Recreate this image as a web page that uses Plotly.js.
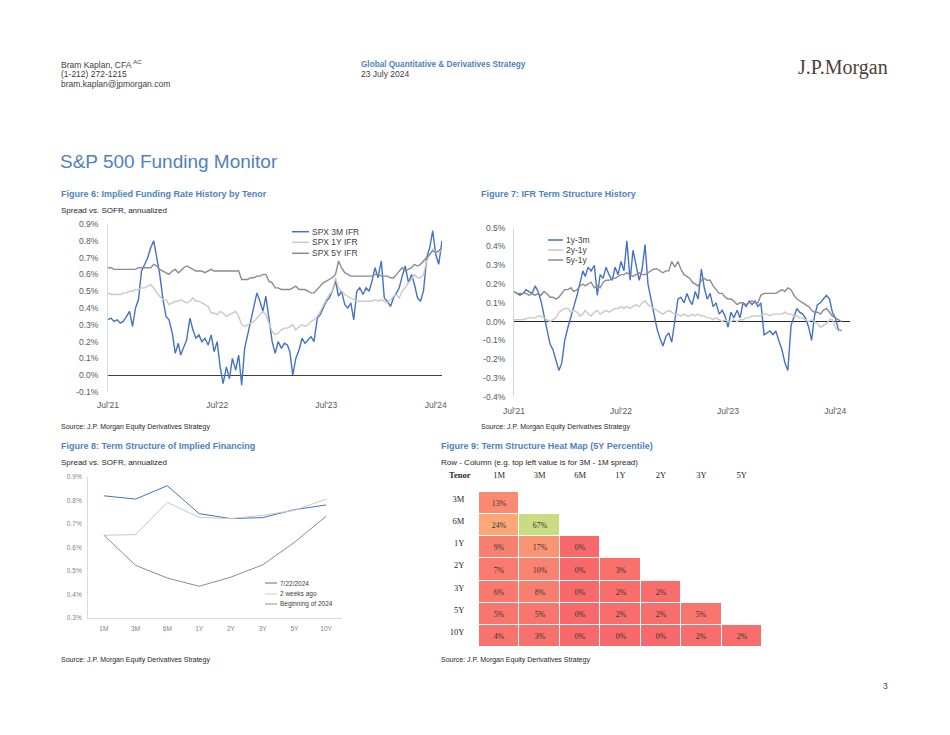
<!DOCTYPE html>
<html><head><meta charset="utf-8">
<script src="https://cdn.plot.ly/plotly-3.0.1.min.js"></script>
<style>html,body{margin:0;padding:0;background:#fff}#chart{width:950px;height:735px}</style>
</head><body><div id="chart"></div>
<script>
// ---------- DATA ----------
const dates = [
'2021-07-01','2021-07-11','2021-07-21','2021-08-01','2021-08-11','2021-08-21','2021-09-01','2021-09-11','2021-09-21','2021-10-01','2021-10-11','2021-10-21','2021-11-01','2021-11-11','2021-11-21','2021-12-01','2021-12-11','2021-12-21',
'2022-01-01','2022-01-11','2022-01-21','2022-02-01','2022-02-11','2022-02-21','2022-03-01','2022-03-11','2022-03-21','2022-04-01','2022-04-11','2022-04-21','2022-05-01','2022-05-11','2022-05-21','2022-06-01','2022-06-11','2022-06-21',
'2022-07-01','2022-07-11','2022-07-21','2022-08-01','2022-08-11','2022-08-21','2022-09-01','2022-09-11','2022-09-21','2022-10-01','2022-10-11','2022-10-21','2022-11-01','2022-11-11','2022-11-21','2022-12-01','2022-12-11','2022-12-21',
'2023-01-01','2023-01-11','2023-01-21','2023-02-01','2023-02-11','2023-02-21','2023-03-01','2023-03-11','2023-03-21','2023-04-01','2023-04-11','2023-04-21','2023-05-01','2023-05-11','2023-05-21','2023-06-01','2023-06-11','2023-06-21',
'2023-07-01','2023-07-11','2023-07-21','2023-08-01','2023-08-11','2023-08-21','2023-09-01','2023-09-11','2023-09-21','2023-10-01','2023-10-11','2023-10-21','2023-11-01','2023-11-11','2023-11-21','2023-12-01','2023-12-11','2023-12-21',
'2024-01-01','2024-01-11','2024-01-21','2024-02-01','2024-02-11','2024-02-21','2024-03-01','2024-03-11','2024-03-21','2024-04-01','2024-04-11','2024-04-21','2024-05-01','2024-05-11','2024-05-21','2024-06-01','2024-06-11','2024-06-21',
'2024-07-01','2024-07-11','2024-07-22'];

// Figure 6: Implied funding rate (spread vs SOFR, %)
const fig6Names = ['SPX 3M IFR','SPX 1Y IFR','SPX 5Y IFR'];
const ifr3m = [
0.33,0.34,0.32,0.33,0.31,0.32,0.35,0.38,0.29,0.40,
0.45,0.62,0.66,0.70,0.76,0.80,0.70,0.60,0.45,0.35,
0.33,0.25,0.13,0.19,0.12,0.17,0.21,0.34,0.27,0.22,
0.24,0.20,0.22,0.18,0.24,0.14,0.20,0.05,-0.05,0.05,
-0.02,0.10,0.03,0.12,-0.06,0.16,0.24,0.33,0.42,0.49,
0.44,0.38,0.47,0.34,0.20,0.13,0.20,0.16,0.19,0.18,
0.14,0.00,0.10,0.15,0.22,0.19,0.21,0.23,0.20,0.34,
0.36,0.40,0.44,0.46,0.50,0.56,0.47,0.50,0.42,0.40,
0.43,0.33,0.50,0.52,0.48,0.52,0.50,0.56,0.64,0.58,
0.68,0.46,0.44,0.41,0.46,0.49,0.52,0.59,0.65,0.55,
0.60,0.54,0.46,0.44,0.50,0.70,0.76,0.86,0.72,0.66,
0.80];
const ifr1y = [
0.49,0.48,0.48,0.48,0.48,0.49,0.49,0.50,0.50,0.51,
0.51,0.52,0.52,0.53,0.54,0.52,0.49,0.47,0.45,0.45,
0.42,0.43,0.44,0.44,0.45,0.44,0.43,0.44,0.46,0.44,
0.44,0.43,0.42,0.41,0.37,0.37,0.36,0.38,0.37,0.35,
0.36,0.37,0.38,0.35,0.30,0.29,0.30,0.31,0.32,0.34,
0.36,0.38,0.36,0.31,0.26,0.24,0.25,0.27,0.28,0.28,
0.29,0.30,0.27,0.29,0.30,0.29,0.30,0.32,0.33,0.35,
0.38,0.42,0.45,0.48,0.50,0.58,0.52,0.50,0.48,0.47,
0.46,0.45,0.44,0.44,0.44,0.44,0.44,0.44,0.45,0.44,
0.45,0.44,0.43,0.45,0.47,0.48,0.46,0.50,0.52,0.55,
0.57,0.60,0.58,0.58,0.60,0.68,0.72,0.75,0.73,0.74,
0.74];
const ifr5y = [
0.64,0.64,0.63,0.63,0.63,0.63,0.63,0.63,0.63,0.63,
0.64,0.64,0.64,0.64,0.64,0.66,0.65,0.63,0.62,0.61,
0.60,0.62,0.63,0.61,0.62,0.64,0.65,0.64,0.63,0.62,
0.62,0.62,0.61,0.62,0.63,0.62,0.62,0.62,0.62,0.62,
0.62,0.62,0.62,0.62,0.57,0.57,0.57,0.58,0.58,0.59,
0.59,0.60,0.60,0.56,0.55,0.52,0.52,0.51,0.51,0.51,
0.51,0.52,0.53,0.51,0.51,0.51,0.50,0.49,0.49,0.51,
0.53,0.55,0.56,0.57,0.58,0.60,0.68,0.64,0.61,0.60,
0.59,0.59,0.59,0.59,0.59,0.59,0.59,0.59,0.60,0.60,
0.59,0.59,0.59,0.58,0.58,0.60,0.62,0.64,0.62,0.63,
0.64,0.66,0.65,0.66,0.68,0.70,0.72,0.74,0.73,0.74,
0.76];

// Figure 7: IFR term structure (%)
const fig7Names = ['1y-3m','2y-1y','5y-1y'];
const ts1y3m = [
0.16,0.15,0.14,0.15,0.17,0.16,0.15,0.19,0.16,0.11,
0.04,-0.03,-0.12,-0.15,-0.21,-0.26,-0.22,-0.10,-0.03,0.03,
0.08,0.14,0.20,0.27,0.24,0.29,0.27,0.30,0.14,0.25,
0.23,0.29,0.25,0.22,0.29,0.25,0.32,0.27,0.43,0.22,
0.38,0.30,0.22,0.28,0.41,0.20,0.12,0.04,-0.04,-0.09,
-0.13,-0.08,-0.06,-0.11,0.02,0.12,0.13,0.10,0.15,0.11,
0.09,0.16,0.12,0.28,0.18,0.12,0.15,0.08,0.10,0.04,
0.06,0.03,-0.03,0.05,0.02,0.06,0.02,0.10,0.08,0.11,
0.09,0.11,0.08,0.10,-0.07,-0.06,-0.05,-0.07,-0.05,-0.10,
-0.15,-0.22,-0.26,-0.02,0.03,0.07,0.05,0.04,0.02,-0.03,
-0.10,0.03,0.09,0.10,0.12,0.14,0.12,0.05,0.02,-0.04,
-0.05];
const ts2y1y = [
0.01,0.01,0.01,0.01,0.015,0.02,0.02,0.02,0.03,0.03,
0.02,0.01,0.00,0.01,0.02,0.05,0.06,0.07,0.07,0.05,
0.06,0.05,0.03,0.04,0.06,0.04,0.03,0.05,0.06,0.04,
0.05,0.06,0.05,0.06,0.07,0.07,0.08,0.07,0.08,0.07,
0.08,0.09,0.08,0.10,0.11,0.09,0.08,0.07,0.06,0.05,
0.04,0.05,0.06,0.05,0.04,0.04,0.03,0.04,0.03,0.03,
0.04,0.03,0.04,0.03,0.03,0.02,0.02,0.01,0.02,0.01,
0.00,0.01,0.00,0.00,0.01,0.00,0.01,0.01,0.02,0.02,
0.03,0.03,0.03,0.03,0.04,0.04,0.03,0.04,0.04,0.04,
0.04,0.05,0.04,0.04,0.03,0.03,0.02,0.02,0.01,0.00,
0.01,0.00,-0.01,-0.03,-0.02,-0.01,0.01,0.01,-0.03,-0.05,
-0.04];
const ts5y1y = [
0.16,0.15,0.15,0.15,0.15,0.14,0.15,0.14,0.15,0.14,
0.16,0.15,0.13,0.13,0.12,0.13,0.15,0.17,0.17,0.18,
0.16,0.17,0.19,0.20,0.19,0.20,0.21,0.18,0.19,0.18,
0.21,0.22,0.22,0.23,0.23,0.24,0.25,0.25,0.26,0.25,
0.24,0.25,0.26,0.25,0.25,0.26,0.27,0.28,0.28,0.27,
0.26,0.27,0.27,0.32,0.29,0.32,0.28,0.25,0.24,0.23,
0.21,0.20,0.19,0.22,0.23,0.22,0.22,0.19,0.17,0.15,
0.15,0.13,0.12,0.12,0.11,0.09,0.10,0.10,0.09,0.10,
0.11,0.10,0.10,0.14,0.15,0.15,0.15,0.15,0.15,0.16,
0.17,0.16,0.18,0.17,0.14,0.12,0.11,0.10,0.09,0.08,
0.06,0.05,0.05,0.04,0.06,0.07,0.05,0.03,0.02,0.01,
0.00];

const dateTickVals = ['2021-07-01','2022-07-01','2023-07-01','2024-07-01'];
const dateTickText = ["Jul'21","Jul'22","Jul'23","Jul'24"];
const fig6YTicks = [-0.1,0,0.1,0.2,0.3,0.4,0.5,0.6,0.7,0.8,0.9];
const fig6YText = ['-0.1%','0.0%','0.1%','0.2%','0.3%','0.4%','0.5%','0.6%','0.7%','0.8%','0.9%'];
const fig7YTicks = [-0.4,-0.3,-0.2,-0.1,0,0.1,0.2,0.3,0.4,0.5];
const fig7YText = ['-0.4%','-0.3%','-0.2%','-0.1%','0.0%','0.1%','0.2%','0.3%','0.4%','0.5%'];

// Figure 8: term structure of implied financing (%)
const tenors8 = ['1M','3M','6M','1Y','2Y','3Y','5Y','10Y'];
const fig8Names = ['7/22/2024','2 weeks ago','Beginning of 2024'];
const curve0722 = [0.820,0.806,0.863,0.744,0.723,0.727,0.761,0.781];
const curve2wk  = [0.652,0.655,0.792,0.728,0.723,0.737,0.758,0.806];
const curveBoY  = [0.652,0.524,0.470,0.435,0.474,0.526,0.622,0.733];
const fig8YTicks = [0.3,0.4,0.5,0.6,0.7,0.8,0.9];
const fig8YText = ['0.3%','0.4%','0.5%','0.6%','0.7%','0.8%','0.9%'];

// Figure 9: heat map (5Y percentile, %)
const hmCols = ['1M','3M','6M','1Y','2Y','3Y','5Y'];
const hmRows = ['3M','6M','1Y','2Y','3Y','5Y','10Y'];
const hmVals = [
 [13,null,null,null,null,null,null],
 [24,67,null,null,null,null,null],
 [9,17,0,null,null,null,null],
 [7,10,0,3,null,null,null],
 [6,8,0,2,2,null,null],
 [5,5,0,2,2,5,null],
 [4,3,0,0,0,2,2]];

// ---------- STYLE / LAYOUT ----------
const W=950,H=735;
const px = x=>x/W, py = y=>1-y/H;
const SANS='"Liberation Sans", Arial, sans-serif';
const NARROW='"Liberation Sans Narrow", "Arial Narrow", "Liberation Sans", sans-serif';
const SERIF='"Liberation Serif", "Times New Roman", serif';
const BLUE='#4472C4', LGRAY='#C9C9C9', DGRAY='#8C8C8C';
const TITLEBLUE='#4F81BD', TXT='#404040', TICK='#595959';
const colors3=[BLUE,LGRAY,DGRAY];

const traces=[];
[ifr3m,ifr1y,ifr5y].forEach((v,k)=>traces.push({type:'scatter',mode:'lines',x:dates,y:v,name:fig6Names[k],
  xaxis:'x',yaxis:'y',line:{color:colors3[k],width:1.4},hoverinfo:'skip',showlegend:false}));
[ts1y3m,ts2y1y,ts5y1y].forEach((v,k)=>traces.push({type:'scatter',mode:'lines',x:dates,y:v,name:fig7Names[k],
  xaxis:'x2',yaxis:'y2',line:{color:colors3[k],width:1.4},hoverinfo:'skip',showlegend:false}));
[curve0722,curve2wk,curveBoY].forEach((v,k)=>traces.push({type:'scatter',mode:'lines',x:tenors8,y:v,name:fig8Names[k],
  xaxis:'x3',yaxis:'y3',line:{color:colors3[k],width:1},hoverinfo:'skip',showlegend:false}));
traces.push({type:'heatmap',x:hmCols,y:hmRows,z:hmVals,xaxis:'x4',yaxis:'y4',zmin:0,zmax:100,
  colorscale:[[0,'#F8696B'],[0.5,'#FFEB84'],[1,'#63BE7B']],showscale:false,xgap:1,ygap:1,
  text:hmVals.map(r=>r.map(v=>v===null?'':v+'%')),texttemplate:'%{text}',
  textfont:{family:SERIF,size:7.8,color:'#333333'},hoverinfo:'skip'});

const hid='rgba(0,0,0,0)';
const tf=(s,c)=>({family:SANS,size:s,color:c||TICK});
const layout={width:W,height:H,margin:{l:0,r:0,t:0,b:0},paper_bgcolor:'#fff',plot_bgcolor:'rgba(0,0,0,0)',showlegend:false,
 xaxis:{domain:[px(108),px(442)],anchor:'y',type:'date',range:['2021-07-01','2024-07-22'],tickmode:'array',tickvals:dateTickVals,ticktext:dateTickText,
   showgrid:false,zeroline:false,showline:false,ticks:'outside',ticklen:5,tickcolor:hid,tickfont:tf(8.5)},
 yaxis:{domain:[py(392),py(224)],anchor:'x',range:[-0.1,0.9],tickmode:'array',tickvals:fig6YTicks,ticktext:fig6YText,
   showgrid:false,zeroline:true,zerolinecolor:'#404040',zerolinewidth:1,showline:true,linecolor:'#D9D9D9',linewidth:1,
   ticks:'outside',ticklen:7,tickcolor:hid,tickfont:tf(8.5)},
 xaxis2:{domain:[px(514),px(850)],anchor:'y2',type:'date',range:['2021-07-01','2024-08-20'],tickmode:'array',tickvals:dateTickVals,ticktext:dateTickText,
   showgrid:false,zeroline:false,showline:false,ticks:'outside',ticklen:6,tickcolor:hid,tickfont:tf(8.5)},
 yaxis2:{domain:[py(396.7),py(227.7)],anchor:'x2',range:[-0.4,0.5],tickmode:'array',tickvals:fig7YTicks,ticktext:fig7YText,
   showgrid:false,zeroline:true,zerolinecolor:'#262626',zerolinewidth:1,showline:true,linecolor:'#D9D9D9',linewidth:1,
   ticks:'outside',ticklen:6,tickcolor:hid,tickfont:tf(8.5)},
 xaxis3:{domain:[px(88),px(342)],anchor:'y3',type:'category',range:[-0.5,7.5],showgrid:false,zeroline:false,showline:true,linecolor:'#D9D9D9',linewidth:1,
   ticks:'outside',ticklen:4,tickcolor:hid,tickfont:tf(6.5,'#7F7F7F')},
 yaxis3:{domain:[py(618),py(477)],anchor:'x3',range:[0.3,0.9],tickmode:'array',tickvals:fig8YTicks,ticktext:fig8YText,showgrid:false,zeroline:false,
   showline:true,linecolor:'#D9D9D9',linewidth:1,ticks:'outside',ticklen:4,tickcolor:hid,tickfont:tf(6.5,'#7F7F7F')},
 xaxis4:{domain:[px(479),px(762)],anchor:'y4',type:'category',side:'top',showgrid:false,zeroline:false,showline:false,
   ticks:'outside',ticklen:10,tickcolor:hid,tickfont:{family:SERIF,size:8.5,color:'#262626'}},
 yaxis4:{domain:[py(647),py(492)],anchor:'x4',type:'category',autorange:'reversed',showgrid:false,zeroline:false,showline:false,
   ticks:'outside',ticklen:12,tickcolor:hid,ticklabelshift:4,tickfont:{family:SERIF,size:8.5,color:'#262626'}},
 annotations:[],shapes:[]};

function txt(x,y,t,font,anchor){layout.annotations.push({xref:'paper',yref:'paper',x:px(x),y:py(y),text:t,showarrow:false,
  xanchor:anchor||'left',yanchor:'middle',font:font,borderpad:0});}
const hdr={family:SANS,size:8.5,color:TXT};
txt(60,64,'Bram Kaplan, CFA <sup>AC</sup>',hdr);
txt(60,74,'(1-212) 272-1215',hdr);
txt(60,84,'bram.kaplan@jpmorgan.com',hdr);
txt(360,64,'<b>Global Quantitative & Derivatives Strategy</b>',{family:SANS,size:8.2,color:TITLEBLUE});
txt(360,74,'23 July 2024',hdr);
txt(797,67,'J.P.Morgan',{family:SERIF,size:20,color:'#4E3F37'});
txt(59,162,'S&P 500 Funding Monitor',{family:SANS,size:19,color:TITLEBLUE});
const figT={family:NARROW,size:9,color:TITLEBLUE};
const sub={family:NARROW,size:8,color:'#262626'};
const src={family:NARROW,size:7,color:'#262626'};
txt(60,194,'<b>Figure 6: Implied Funding Rate History by Tenor</b>',figT);
txt(60,210,'Spread vs. SOFR, annualized',sub);
txt(480,194,'<b>Figure 7: IFR Term Structure History</b>',figT);
txt(60,427,'Source: J.P. Morgan Equity Derivatives Strategy',src);
txt(480,427,'Source: J.P. Morgan Equity Derivatives Strategy',src);
txt(60,446,'<b>Figure 8: Term Structure of Implied Financing</b>',figT);
txt(60,462,'Spread vs. SOFR, annualized',sub);
txt(440,446,'<b>Figure 9: Term Structure Heat Map (5Y Percentile)</b>',figT);
txt(440,462,'Row - Column (e.g. top left value is for 3M - 1M spread)',sub);
txt(460,475,'<b>Tenor</b>',{family:SERIF,size:8.5,color:'#262626'},'center');
txt(60,660,'Source: J.P. Morgan Equity Derivatives Strategy',src);
txt(440,660,'Source: J.P. Morgan Equity Derivatives Strategy',src);
txt(889,686,'3',{family:SANS,size:8.5,color:TXT},'right');

// manual legends
function legend(x0,x1,ys,names,cols,fs,lw){
  names.forEach((n,k)=>{
    layout.shapes.push({type:'line',xref:'paper',yref:'paper',x0:px(x0),x1:px(x1),y0:py(ys[k]),y1:py(ys[k]),line:{color:cols[k],width:lw}});
    txt(x1+2,ys[k],n,{family:SANS,size:fs,color:'#404040'});
  });
}
legend(292,309,[231.7,242.3,253.3],fig6Names,colors3,8.5,1.5);
legend(548,563,[240,250,260],fig7Names,colors3,8.5,1.5);
legend(265,277,[583,594,604],fig8Names,colors3,6.5,1);

Plotly.newPlot('chart',traces,layout,{staticPlot:true,displayModeBar:false});
</script></body></html>
